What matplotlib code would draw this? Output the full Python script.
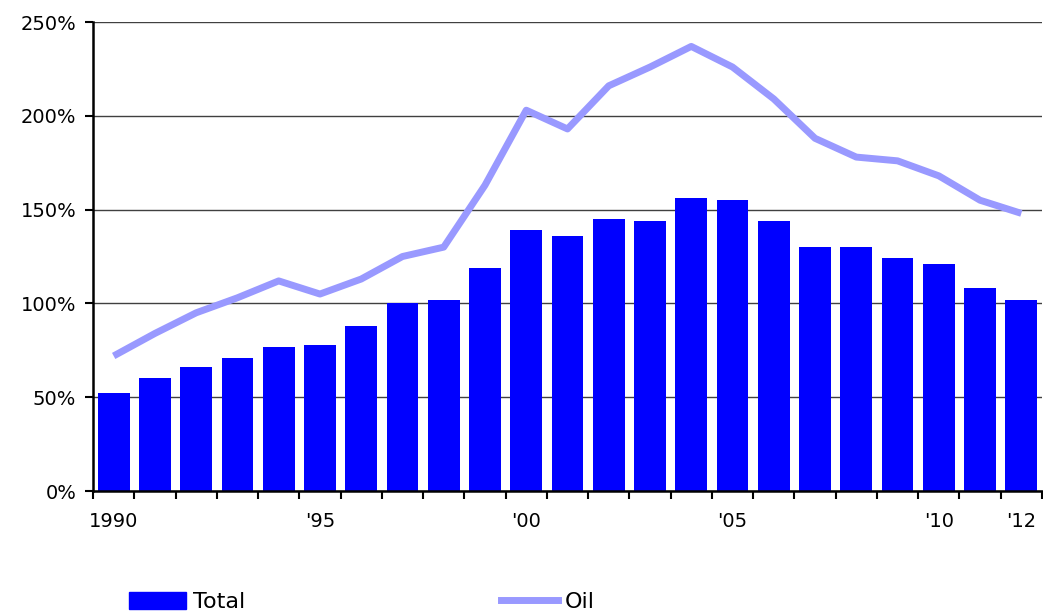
import matplotlib
matplotlib.use("Agg")
import matplotlib.pyplot as plt
from matplotlib.patches import Patch
from matplotlib.lines import Line2D
import numpy as np

# Data
years = list(range(1990, 2013))
total = [52, 60, 66, 71, 77, 78, 88, 100, 102, 119, 139, 136, 145, 144,
         156, 155, 144, 130, 130, 124, 121, 108, 102]
oil = [72, 84, 95, 103, 112, 105, 113, 125, 130, 163, 203, 193, 216, 226,
       237, 226, 209, 188, 178, 176, 168, 155, 148]
tick_years = [1990, 1995, 2000, 2005, 2010, 2012]
tick_labels = ["1990", "'95", "'00", "'05", "'10", "'12"]

plt.rcParams['font.family'] = ['DejaVu Sans']

fig = plt.figure(figsize=(10.43, 6.15), dpi=100)
ax = fig.add_axes([0.0892, 0.2016, 0.9098, 0.7626])

x = np.arange(len(years))
ax.bar(x, total, width=0.77, color='#0000ff', zorder=2)
ax.plot(x, oil, color='#9999ff', lw=5, zorder=3, solid_capstyle='butt')

ax.set_xlim(-0.5, len(years) - 0.5)
ax.set_ylim(0, 250)
ax.set_yticks(range(0, 251, 50))
ax.set_yticklabels([f"{v}%" for v in range(0, 251, 50)], fontsize=14)
ax.yaxis.grid(True, color='#404040', lw=1)
ax.set_axisbelow(True)

# year labels under bar centres, tick marks between bars
ax.set_xticks([years.index(y) for y in tick_years])
ax.set_xticklabels(tick_labels, fontsize=14)
ax.set_xticks(np.arange(-0.5, len(years), 1), minor=True)
ax.tick_params(axis='x', which='major', length=0, pad=15)
ax.tick_params(axis='x', which='minor', length=6, width=1.5, direction='out')
ax.tick_params(axis='y', length=6, width=1.5, pad=6)

for side in ['top', 'right']:
    ax.spines[side].set_visible(False)
for side in ['left', 'bottom']:
    ax.spines[side].set_linewidth(1.8)

handles = [Patch(color='#0000ff'), Line2D([], [], color='#9999ff', lw=5)]
fig.legend(handles, ['Total', 'Oil'], loc='center left',
           bbox_to_anchor=(0.1237, 0.021), ncol=2, frameon=False,
           fontsize=16, handlelength=2.57, handleheight=0.77,
           handletextpad=0.3, columnspacing=11.5, borderpad=0,
           borderaxespad=0)

fig.savefig("out.png", dpi=100)
